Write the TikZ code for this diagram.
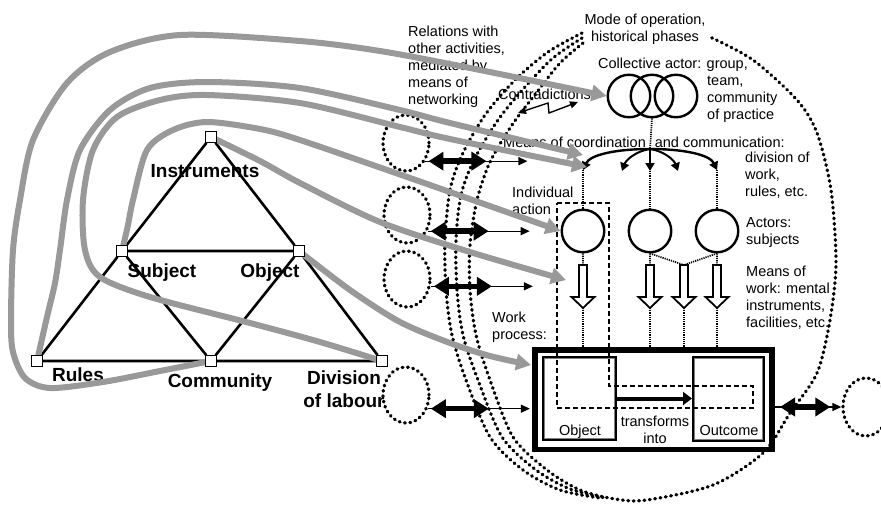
\documentclass[tikz,border=0pt]{standalone}
\usepackage{fontspec}
\setmainfont{Liberation Sans}
\usetikzlibrary{arrows.meta,shapes.geometric}
\definecolor{linkgray}{RGB}{153,153,153}
\pgfdeclarelayer{back}
\pgfdeclarelayer{links}
\pgfdeclarelayer{front}
\pgfsetlayers{back,main,links,front}
% hollow downward arrow for the means of work
\tikzset{
  workmeans/.pic={
    \draw[line width=1.8pt, fill=white] (-4,0) -- (4,0) -- (4,32) -- (11.5,32) -- (0,43) -- (-11.5,32) -- (-4,32) -- cycle;
    \coordinate (-top) at (0,0);
    \coordinate (-tip) at (0,43);
  }
}
\begin{document}
\begin{tikzpicture}[x=1pt, y=-1pt,
  vertex/.style={draw, fill=white, line width=0.7pt, minimum size=11pt, inner sep=0pt},
  tri/.style={line width=2.6pt},
  tlabel/.style={font=\fontsize{19}{23}\selectfont\bfseries, inner sep=0pt},
  note/.style={font=\fontsize{14.5}{17}\selectfont, inner sep=0pt, align=left, anchor=north west},
  link/.style={draw=linkgray, line width=6pt, -{Triangle[length=15pt,width=16pt]}},
  bigdots/.style={line width=3.3pt, line cap=round, dash pattern=on 0.8pt off 4.6pt},
  finedots/.style={line width=1.7pt, dash pattern=on 1.2pt off 1pt},
  env/.style={ellipse, draw, bigdots, minimum width=46pt, minimum height=56pt, inner sep=0pt},
  actor/.style={circle, draw, line width=2.4pt, minimum size=42.5pt, inner sep=0pt},
  fat/.style={line width=5.5pt, {Triangle[length=15pt,width=18pt]}-{Triangle[length=15pt,width=18pt]}},
  thinarrow/.style={line width=1.3pt, -{Triangle[length=9pt,width=8pt]}},
  coordarrow/.style={line width=2.4pt, -{Triangle[length=8pt,width=9pt]}},
  dashbox/.style={line width=1.6pt, dash pattern=on 5pt off 3pt},
]
\useasboundingbox (0,0) rectangle (881,504);
\begin{pgfonlayer}{back}
\fill[white] (0,0) rectangle (881,504);
\end{pgfonlayer}

% activity triangle corners
\begin{pgfonlayer}{front}
\node[vertex] (instr) at (211,137) {};
\node[vertex] (subj)  at (122,251) {};
\node[vertex] (obj)   at (299,251) {};
\node[vertex] (rules) at (37,361) {};
\node[vertex] (comm)  at (211,361) {};
\node[vertex] (div)   at (382,361) {};
\end{pgfonlayer}

\draw[tri] (instr) -- (subj) (instr) -- (obj) (subj) -- (obj)
  (subj) -- (rules) (subj) -- (comm) (obj) -- (comm) (obj) -- (div)
  (rules) -- (comm) (comm) -- (div);

\node[tlabel, anchor=base] (linstr) at (205,177) {Instruments};
\node[tlabel, anchor=base] (lsubj) at (162,277) {Subject};
\node[tlabel, anchor=base] (lobj) at (270,277) {Object};
\node[tlabel, anchor=base] (lrules) at (78,381) {Rules};
\node[tlabel, anchor=base] (lcomm) at (220,387) {Community};
\node[tlabel, align=center, anchor=north] (ldiv) at (344,370.4) {Division\\of labour};

% activity boundary and historical phases
\begin{pgfonlayer}{back}
\draw[bigdots] plot[smooth] coordinates {(582,33) (548,52) (515,80) (485,115) (462,155) (450,190) (445,240) (446,290) (452,335) (466,380) (490,437) (523,470) (560,490) (600,498)};
\draw[bigdots] plot[smooth] coordinates {(582,38) (553,58) (525,87) (498,120) (474,160) (461,195) (456,240) (457,290) (463,335) (478,380) (502,437) (536,470) (570,489) (606,498)};
\draw[bigdots] plot[smooth] coordinates {(583,43) (560,63) (537,92) (512,125) (490,162) (477,200) (470,245) (470,290) (476,335) (490,380) (513,437) (547,470) (580,490) (615,499) (647,500) (713,485) (763,453) (790,413) (817,373) (830,320) (836,263) (831,190) (817,133) (797,100) (753,60) (710,37)};
\end{pgfonlayer}

% neighbouring activities
\node[env] (env1) at (406,143) {};
\node[env] (env2) at (407,215) {};
\node[env] (env3) at (407,279) {};
\node[env] (env4) at (406,395) {};
\node[env, minimum height=58pt] (env5) at (866,407) {};

% texts
\node[note] (rel) at (408,25.6) {Relations with\\other activities,\\mediated by\\means of\\networking};
\node[note, align=center, anchor=north] (mode) at (645,13.6) {Mode of operation,\\historical phases};
\node[note] (collt) at (598,57.6) {Collective actor: group,};
\node[note] (team) at (707,76.3) {team,\\community\\of practice};
\node[note, anchor=base west] (contra) at (498,99) {Contradictions};
\node[note, anchor=base west] (meanscoord) at (503,147) {Means of coordination\hspace{5pt} and communication:};
\node[note] (divwork) at (745,151.6) {division of\\work,\\rules, etc.};
\node[note] (indiv) at (512,186.6) {Individual\\action};
\node[note] (actors) at (746,217.6) {Actors:\\subjects};
\node[note] (means) at (746,265.6) {Means of\\work: mental\\instruments,\\facilities, etc.};
\node[note] (work) at (492,311.6) {Work\\process:};

% collective actor
\node[actor] (coll1) at (629,96) {};
\node[actor] (coll2) at (652,96) {};
\node[actor] (coll3) at (676,96) {};

% contradictions
\coordinate (zl) at (518,113);
\coordinate (zr) at (578,102);
\draw[line width=1.4pt, {Triangle[length=8pt,width=7pt]}-{Triangle[length=8pt,width=7pt]}] (zl) -- (548,103) -- (549,113) -- (zr);

% coordination and communication
\coordinate (ctop) at (650,149);
\coordinate (cl) at (583,170);
\coordinate (cm) at (650,171);
\coordinate (cr) at (717,170);
\coordinate (cil) at (622,171);
\coordinate (cir) at (678,171);
\draw[finedots] (coll2.south) -- (ctop);
\draw[coordarrow] (ctop) .. controls (615,149) and (590,155) .. (cl);
\draw[coordarrow] (ctop) .. controls (685,149) and (710,155) .. (cr);
\draw[coordarrow, line width=2pt] (ctop) .. controls (636,151) and (626,160) .. (cil);
\draw[coordarrow, line width=2pt] (ctop) .. controls (664,151) and (674,160) .. (cir);
\draw[coordarrow, line width=2pt] (ctop) -- (cm);

% actors
\node[actor] (act1) at (583,231) {};
\node[actor] (act2) at (650,231) {};
\node[actor] (act3) at (717,231) {};
\draw[finedots] (cl) -- (act1.north) (cm) -- (act2.north) (cr) -- (act3.north);

% means of work
\pic (mw1) at (583,265) {workmeans};
\pic (mw2) at (650,265) {workmeans};
\pic (mw3) at (684,265) {workmeans};
\pic (mw4) at (717,265) {workmeans};
\draw[finedots] (act1.south) -- (mw1-top) (act2.south) -- (mw2-top)
  (act2.south) -- (mw3-top) (act3.south) -- (mw3-top) (act3.south) -- (mw4-top);

% work process
\node[draw, line width=4.5pt, minimum width=238.5pt, minimum height=100.5pt, inner sep=0pt] (wp) at (653.5,399.5) {};
\draw[line width=1.1pt] ([shift={(5,5)}]wp.north west) rectangle ([shift={(-5,-4)}]wp.south east);
\draw[finedots] (mw1-tip) -- (mw1-tip |- wp.north) (mw2-tip) -- (mw2-tip |- wp.north)
  (mw3-tip) -- (mw3-tip |- wp.north) (mw4-tip) -- (mw4-tip |- wp.north);
\node[draw, line width=2.2pt, minimum width=72.8pt, minimum height=82.8pt, inner sep=0pt] (objbox) at (579.5,398.5) {};
\node[draw, line width=2.2pt, minimum width=70.8pt, minimum height=83.8pt, inner sep=0pt] (outbox) at (728.5,399) {};
\draw[line width=0.8pt, gray] ([shift={(2.4,2.4)}]objbox.north west) rectangle ([shift={(-2.4,-2.4)}]objbox.south east);
\draw[line width=0.8pt, gray] ([shift={(2.4,2.4)}]outbox.north west) rectangle ([shift={(-2.4,-2.4)}]outbox.south east);
\node[note, anchor=base] (objtxt) at (580,435) {Object};
\node[note, anchor=base] (outtxt) at (729,435) {Outcome};
\node[note, align=center, anchor=north] (transf) at (655,416) {transforms\\into};
\draw[line width=4pt, -{Triangle[length=9pt,width=13pt]}] (objbox.east) -- (objbox.east -| outbox.west);

% individual action
\draw[dashbox] (557,203) -- (609,203) -- (609,386) -- (753,386) -- (753,408) -- (557,408) -- cycle;

% exchanges with neighbouring activities
\foreach \e/\a in {env1/-43, env2/-38, env3/-17, env4/-32} {
  \draw[thinarrow] (\e.\a) -- ++(102,0);
  \draw[fat] ([xshift=3pt]\e.\a) -- ++(58,0);
}
\coordinate (rs) at (wp.east |- env5.west);
\draw[thinarrow] (rs) -- (env5.west);
\draw[fat] ([xshift=5pt]rs) -- ([xshift=-11pt]env5.west);

% mappings from the triangle to the model
\coordinate (coordhi) at (583,155);
\coordinate (coordlo) at (587,167);
\coordinate (toolpt) at (566,280);
\coordinate (wpin) at (531,365);
\begin{pgfonlayer}{links}
\draw[link] plot[smooth] coordinates {(comm) (160,371) (103,382) (50,388) (25,378) (13,352) (11,320) (13,250) (20,200) (33,140) (67,83) (110,52) (180,35) (300,41) (380,51) (470,68) (coll1.west)};
\draw[link] plot[smooth] coordinates {(rules) (47,317) (55,283) (60,250) (67,200) (80,150) (110,110) (150,88) (207,82) (300,88) (400,110) (450,123) (coordhi)};
\draw[link] plot[smooth] coordinates {(div) (320,342) (250,323) (150,297) (100,277) (85,250) (83,200) (93,150) (117,117) (160,100) (207,95) (300,103) (400,127) (450,139) (coordlo)};
\draw[link] plot[smooth] coordinates {(subj) (128,225) (133,200) (147,150) (173,130) (207,122) (260,129) (300,140) (410,178) (act1.west)};
\draw[link] plot[smooth] coordinates {(instr) (260,161) (300,183) (380,222) (470,252) (toolpt)};
\draw[link] plot[smooth] coordinates {(obj) (350,290) (400,322) (450,343) (490,356) (wpin)};
\end{pgfonlayer}
\end{tikzpicture}
\end{document}
